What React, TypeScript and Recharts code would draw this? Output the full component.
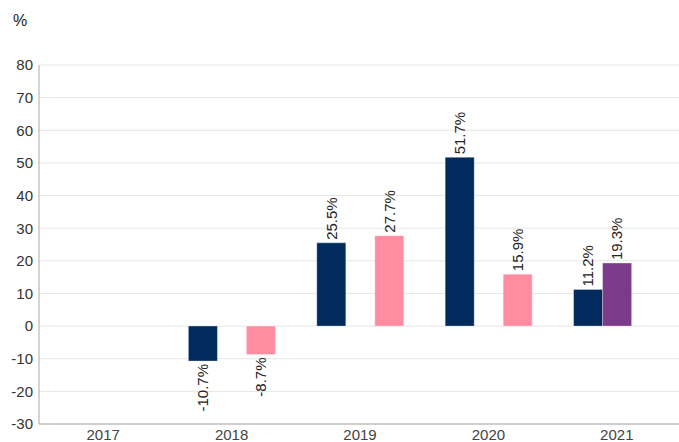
import React from "react";
import { BarChart, Bar, XAxis, YAxis, CartesianGrid, LabelList } from "recharts";

const categories = ["2017", "2018", "2019", "2020", "2021"];
const navyValues: (number | null)[] = [null, -10.7, 25.5, 51.7, 11.2];
const purpleValues: (number | null)[] = [null, null, null, null, 19.3];
const pinkValues: (number | null)[] = [null, -8.7, 27.7, 15.9, null];
const yTicks = [-30, -20, -10, 0, 10, 20, 30, 40, 50, 60, 70, 80];

const data = categories.map((c, i) => ({
  year: c,
  navy: navyValues[i],
  purple: purpleValues[i],
  pink: pinkValues[i],
}));

const FONT = "'Liberation Sans', Arial, sans-serif";

const RotLabel = (props: any) => {
  const { x, y, width, value } = props;
  if (value === null || value === undefined) return null;
  const cx = x + width / 2;
  const pos = value >= 0;
  const ay = pos ? y - 3 : y + 3;
  return (
    <text
      x={cx}
      y={ay}
      transform={`rotate(-90 ${cx} ${ay})`}
      textAnchor={pos ? "start" : "end"}
      dy="0.36em"
      fontSize={15}
      fontFamily={FONT}
      fill="#222"
    >
      {`${value.toFixed(1)}%`}
    </text>
  );
};

export default function App() {
  return (
    <div style={{ position: "absolute", left: 0, top: 0, width: 679, height: 442, overflow: "hidden", background: "#fff" }}>
      <div style={{ position: "absolute", left: 13, top: 11, fontSize: 16, lineHeight: "20px", fontFamily: FONT, color: "#222" }}>%</div>
      <BarChart
        width={690}
        height={442}
        data={data}
        margin={{ top: 65, right: 9, bottom: 0, left: 0 }}
        barGap={0}
        barSize={29}
      >
        <CartesianGrid horizontal={true} vertical={false} stroke="#e6e6e6" />
        <XAxis
          dataKey="year"
          axisLine={{ stroke: "#aaa" }}
          tickLine={false}
          height={18}
          tick={{ fill: "#444", fontSize: 15, fontFamily: FONT }}
          tickSize={3}
        />
        <YAxis
          domain={[-30, 80]}
          ticks={yTicks}
          width={39}
          axisLine={{ stroke: "#aaa" }}
          tickLine={false}
          tickSize={4}
          interval={0}
          tick={{ fill: "#333", fontSize: 15, fontFamily: FONT }}
        />
        <Bar dataKey="navy" fill="#002b5c" stroke="#ffffff" strokeOpacity={0.3} strokeWidth={1} isAnimationActive={false}>
          <LabelList dataKey="navy" content={RotLabel} />
        </Bar>
        <Bar dataKey="purple" fill="#7b3a8a" stroke="#ffffff" strokeOpacity={0.3} strokeWidth={1} isAnimationActive={false}>
          <LabelList dataKey="purple" content={RotLabel} />
        </Bar>
        <Bar dataKey="pink" fill="#ff8ca0" stroke="#ffffff" strokeOpacity={0.3} strokeWidth={1} isAnimationActive={false}>
          <LabelList dataKey="pink" content={RotLabel} />
        </Bar>
      </BarChart>
    </div>
  );
}
